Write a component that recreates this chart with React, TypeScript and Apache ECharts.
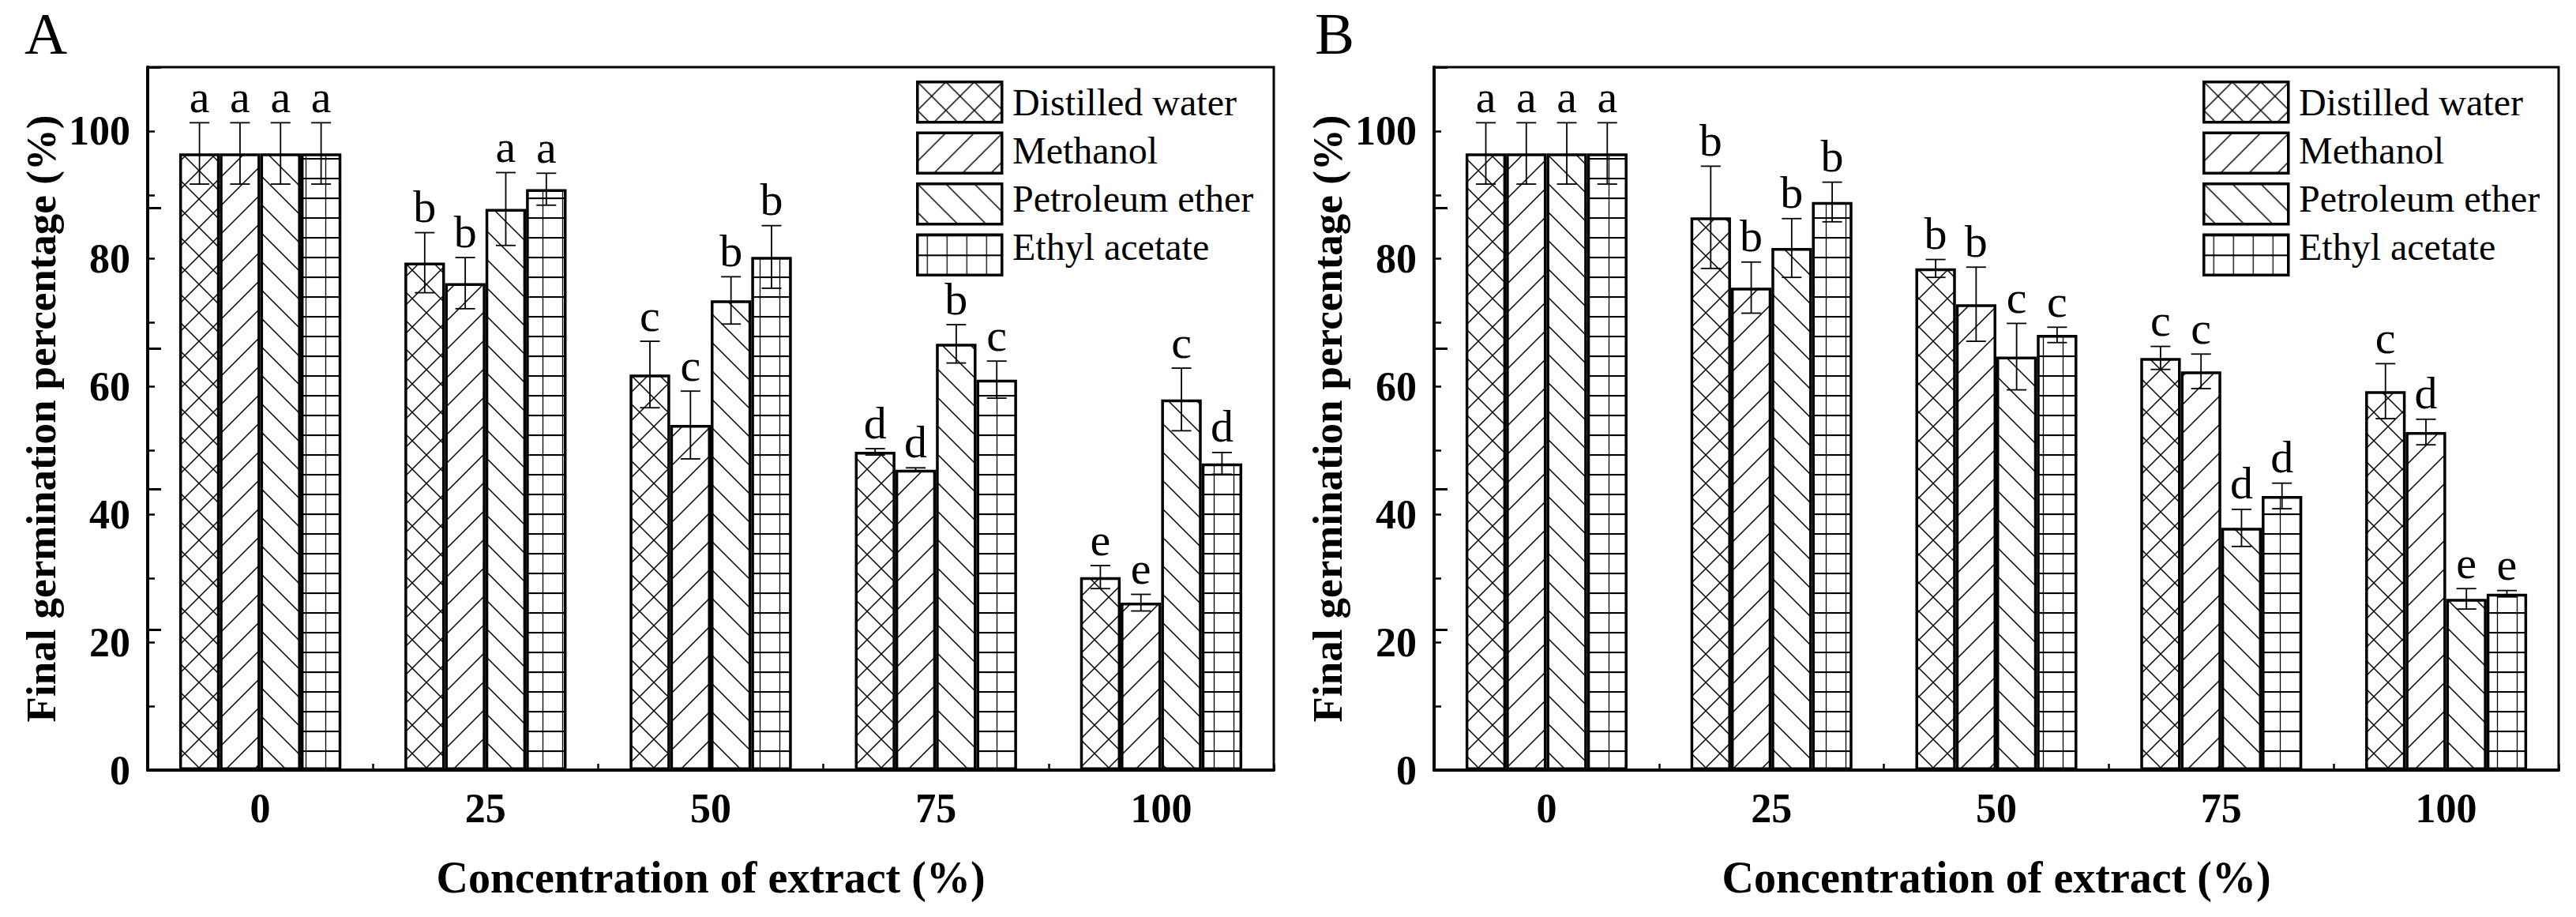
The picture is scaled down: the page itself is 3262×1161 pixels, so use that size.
import React, { useEffect, useRef } from "react";
import * as echarts from "echarts";

const categories = ["0", "25", "50", "75", "100"];
const seriesNames = ["Distilled water", "Methanol", "Petroleum ether", "Ethyl acetate"];

// Panel A means
const aWater = [96.5, 79.4, 61.9, 49.8, 30.2];
const aMethanol = [96.5, 76.2, 54.0, 47.0, 26.2];
const aPetroleum = [96.5, 87.8, 73.5, 66.7, 58.0];
const aEthyl = [96.5, 90.9, 80.3, 61.1, 48.0];
// Panel A errors
const aWaterErr = [4.8, 4.7, 5.2, 0.5, 1.8];
const aMethanolErr = [4.8, 4.0, 5.3, 0.3, 1.3];
const aPetroleumErr = [4.8, 5.7, 3.7, 3.0, 4.9];
const aEthylErr = [4.8, 2.5, 4.9, 2.9, 1.7];
// Panel A letters
const aWaterLet = ["a", "b", "c", "d", "e"];
const aMethanolLet = ["a", "b", "c", "d", "e"];
const aPetroleumLet = ["a", "a", "b", "b", "c"];
const aEthylLet = ["a", "a", "b", "c", "d"];

// Panel B means
const bWater = [96.5, 86.5, 78.5, 64.5, 59.3];
const bMethanol = [96.5, 75.5, 72.9, 62.4, 52.9];
const bPetroleum = [96.5, 81.7, 64.7, 37.9, 26.8];
const bEthyl = [96.5, 88.9, 68.1, 42.9, 27.6];
// Panel B errors
const bWaterErr = [4.8, 8.0, 1.4, 1.8, 4.3];
const bMethanolErr = [4.8, 4.0, 5.8, 2.7, 2.0];
const bPetroleumErr = [4.8, 4.6, 5.2, 2.9, 1.6];
const bEthylErr = [4.8, 3.1, 1.2, 2.0, 0.5];
// Panel B letters
const bWaterLet = ["a", "b", "b", "c", "c"];
const bMethanolLet = ["a", "b", "b", "c", "d"];
const bPetroleumLet = ["a", "b", "c", "d", "e"];
const bEthylLet = ["a", "b", "c", "d", "e"];

const yTitle = "Final germination percentage (%)";
const xTitle = "Concentration of extract (%)";

const FONT = "Liberation Serif";

function svgUrl(w: number, h: number, body: string) {
  return (
    "data:image/svg+xml;charset=utf-8," +
    encodeURIComponent(
      `<svg xmlns="http://www.w3.org/2000/svg" width="${w}" height="${h}" viewBox="0 0 ${w} ${h}"><rect width="${w}" height="${h}" fill="#fff"/>${body}</svg>`
    )
  );
}

function makePattern(url: string, w: number, h: number) {
  return { image: url, repeat: "repeat", imageWidth: w, imageHeight: h } as any;
}

const S = 36;
const lw = 1.5;
const crossUrl = svgUrl(
  S,
  S,
  `<path d="M0,0 L${S},${S} M0,${S} L${S},0" stroke="#000" stroke-width="${lw}" fill="none"/>`
);
const fwdUrl = svgUrl(
  S,
  S,
  `<path d="M0,${S} L${S},0 M-6,6 L6,-6 M${S - 6},${S + 6} L${S + 6},${S - 6}" stroke="#000" stroke-width="${lw}" fill="none"/>`
);
const backUrl = svgUrl(
  S,
  S,
  `<path d="M0,0 L${S},${S} M-6,${S - 6} L6,${S + 6} M${S - 6},-6 L${S + 6},6" stroke="#000" stroke-width="${lw}" fill="none"/>`
);
const G = 25;
const gridUrl = svgUrl(
  G,
  G,
  `<path d="M0,1 H${G}" stroke="#000" stroke-width="2.2" fill="none"/><path d="M${G / 2},0 V${G}" stroke="#000" stroke-width="1.3" fill="none"/>`
);

const patterns = [
  makePattern(crossUrl, S, S),
  makePattern(fwdUrl, S, S),
  makePattern(backUrl, S, S),
  makePattern(gridUrl, G, G),
];

const panelA = {
  means: [aWater, aMethanol, aPetroleum, aEthyl],
  errs: [aWaterErr, aMethanolErr, aPetroleumErr, aEthylErr],
  letters: [aWaterLet, aMethanolLet, aPetroleumLet, aEthylLet],
};
const panelB = {
  means: [bWater, bMethanol, bPetroleum, bEthyl],
  errs: [bWaterErr, bMethanolErr, bPetroleumErr, bEthylErr],
  letters: [bWaterLet, bMethanolLet, bPetroleumLet, bEthylLet],
};

function buildSeries(panel: any, xIdx: number, yIdx: number) {
  const out: any[] = [];
  panel.means.forEach((vals: number[], i: number) => {
    out.push({
      type: "bar",
      name: seriesNames[i],
      xAxisIndex: xIdx,
      yAxisIndex: yIdx,
      data: vals,
      barWidth: "18%",
      barGap: "0%",
      itemStyle: { color: patterns[i], borderColor: "#000", borderWidth: 3.5 },
      z: 2,
    });
  });
  const errData: number[][] = [];
  panel.means.forEach((vals: number[], i: number) => {
    vals.forEach((v: number, c: number) => {
      errData.push([c, v, panel.errs[i][c], i]);
    });
  });
  out.push({
    type: "custom",
    name: "err",
    xAxisIndex: xIdx,
    yAxisIndex: yIdx,
    data: errData,
    z: 5,
    renderItem: (params: any, api: any) => {
      const cat = api.value(0);
      const mean = api.value(1);
      const err = api.value(2);
      const si = api.value(3);
      const band = api.size([1, 0])[0];
      const bw = band * 0.18;
      const x = api.coord([cat, mean])[0] + (si - 1.5) * bw;
      const yTop = api.coord([cat, mean + err])[1];
      const yBot = api.coord([cat, mean - err])[1];
      const cap = 12.5;
      const ls = { stroke: "#000", lineWidth: 1.8 };
      return {
        type: "group",
        children: [
          { type: "line", shape: { x1: x, y1: yTop, x2: x, y2: yBot }, style: ls },
          { type: "line", shape: { x1: x - cap, y1: yTop, x2: x + cap, y2: yTop }, style: ls },
          { type: "line", shape: { x1: x - cap, y1: yBot, x2: x + cap, y2: yBot }, style: ls },
          {
            type: "text",
            style: {
              text: panel.letters[si][cat],
              x: x,
              y: yTop - 4,
              align: "center",
              verticalAlign: "bottom",
              font: `58px "${FONT}"`,
              fill: "#000",
            },
          },
        ],
      };
    },
  });
  return out;
}

function xAxisDef(gridIndex: number) {
  return {
    gridIndex,
    type: "category",
    data: categories,
    boundaryGap: true,
    axisLine: { show: true, lineStyle: { color: "#000", width: 4 } },
    axisTick: { show: true, inside: true, length: 8, interval: 0, lineStyle: { color: "#000", width: 2.5 } },
    axisLabel: { fontSize: 52, fontWeight: "bold", color: "#000", margin: 22, fontFamily: FONT },
    splitLine: { show: false },
    name: xTitle,
    nameLocation: "middle",
    nameGap: 108,
    nameTextStyle: { fontSize: 56, fontWeight: "bold", color: "#000", fontFamily: FONT },
  };
}

function yAxisDefs(gridIndex: number) {
  return [
    {
      gridIndex,
      type: "value",
      position: "left",
      min: 0,
      max: 110,
      interval: 10,
      axisLine: { show: true, lineStyle: { color: "#000", width: 4 } },
      axisTick: { show: true, inside: true, length: 9, lineStyle: { color: "#000", width: 2.5 } },
      axisLabel: {
        fontSize: 52,
        fontWeight: "bold",
        color: "#000",
        margin: 22,
        fontFamily: FONT,
        formatter: (v: number) => (v % 20 === 0 && v <= 100 ? String(v) : ""),
      },
      splitLine: { show: false },
      name: yTitle,
      nameLocation: "middle",
      nameGap: 109,
      nameTruncate: { maxWidth: 3000 },
      nameTextStyle: { fontSize: 53, fontWeight: "bold", color: "#000", fontFamily: FONT, width: 3000, overflow: "none" },
    },
    {
      gridIndex,
      type: "value",
      position: "left",
      offset: 0,
      min: 0,
      max: 100,
      interval: 20,
      axisLine: { show: false },
      axisTick: { show: true, inside: true, length: 17, lineStyle: { color: "#000", width: 3 } },
      axisLabel: { show: false },
      splitLine: { show: false },
    },
  ];
}

const LEG_TOP = 102;
const LEG_H = 51;
const LEG_GAP = 10;

function legendDef(left: number) {
  return {
    data: seriesNames,
    orient: "vertical",
    left,
    top: LEG_TOP,
    itemWidth: 107,
    itemHeight: LEG_H,
    itemGap: LEG_GAP,
    padding: 0,
    icon: "rect",
    selectedMode: false,
    itemStyle: { borderColor: "#000", borderWidth: 3.5 },
    formatter: () => "",
    textStyle: { fontSize: 10, color: "#000" },
  };
}

function legendLabels(textLeft: number) {
  return seriesNames.map((name, i) => ({
    type: "text",
    x: textLeft,
    y: LEG_TOP + LEG_H / 2 + i * (LEG_H + LEG_GAP) + 2,
    style: {
      text: name,
      font: `48px "${FONT}"`,
      fill: "#000",
      align: "left",
      verticalAlign: "middle",
    },
  }));
}

export default function App() {
  const ref = useRef<HTMLDivElement>(null);
  useEffect(() => {
    if (!ref.current) return;
    const chart = echarts.init(ref.current, null, { renderer: "svg" });
    const yA = yAxisDefs(0);
    const yB = yAxisDefs(1);
    const option: any = {
      animation: false,
      backgroundColor: "#fff",
      textStyle: { fontFamily: FONT },
      grid: [
        { left: 187, top: 85, width: 1426, height: 890, show: true, borderColor: "#000", borderWidth: 3, backgroundColor: "transparent", containLabel: false, outerBoundsMode: "none" },
        { left: 1816, top: 85, width: 1424, height: 890, show: true, borderColor: "#000", borderWidth: 3, backgroundColor: "transparent", containLabel: false, outerBoundsMode: "none" },
      ],
      xAxis: [xAxisDef(0), xAxisDef(1)],
      yAxis: [yA[0], yA[1], yB[0], yB[1]],
      legend: [legendDef(1160), legendDef(2789)],
      graphic: [
        { type: "text", left: 31, top: 5, style: { text: "A", font: `75px "${FONT}"`, fill: "#000" } },
        { type: "text", left: 1665, top: 5, style: { text: "B", font: `75px "${FONT}"`, fill: "#000" } },
        ...legendLabels(1282),
        ...legendLabels(2911),
      ],
      series: [...buildSeries(panelA, 0, 0), ...buildSeries(panelB, 1, 2)],
    };
    chart.setOption(option);
    return () => chart.dispose();
  }, []);
  return (
    <div
      ref={ref}
      style={{ position: "fixed", left: 0, top: 0, width: 3262, height: 1161, background: "#fff" }}
    />
  );
}
